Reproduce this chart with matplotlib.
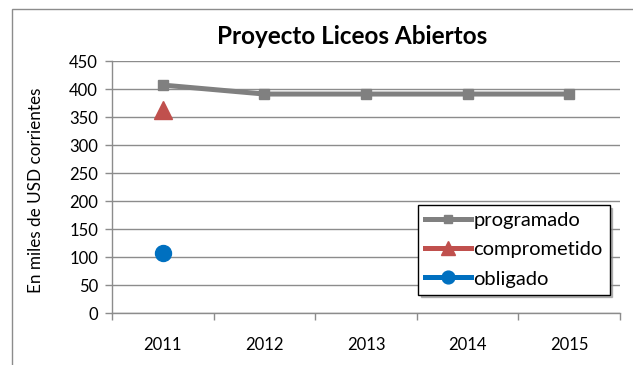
import matplotlib
matplotlib.use("Agg")
import matplotlib.pyplot as plt
from matplotlib.patches import Rectangle
import numpy as np

years = ["2011", "2012", "2013", "2014", "2015"]
programado = [407, 391, 391, 391, 391]
comprometido = [362, None, None, None, None]
obligado = [107, None, None, None, None]
yticks = [0, 50, 100, 150, 200, 250, 300, 350, 400, 450]

plt.rcParams['font.family'] = ['Lato', 'DejaVu Sans']

W, H = 633, 365
fig = plt.figure(figsize=(W / 100, H / 100), dpi=100)
ax = fig.add_axes([112 / W, 1 - 313 / H, (620 - 112) / W, (313 - 61) / H])

# outer chart frame
fig.patches.append(Rectangle((12 / W, -0.05), 1.0, 1 - 9 / H + 0.05,
                             transform=fig.transFigure, fill=False,
                             edgecolor="#8c8c8c", linewidth=1.0))

x = np.arange(len(years))
grid_c = "#8c8c8c"

def to_arr(v):
    return np.array([np.nan if a is None else a for a in v], dtype=float)

ax.plot(x, to_arr(programado), color="#808080", linewidth=3.6, marker="s",
        markersize=7.5, label="programado", zorder=3)
ax.plot(x, to_arr(comprometido), color="#C0504D", linewidth=3.6, marker="^",
        markersize=12.5, label="comprometido", zorder=3)
ax.plot(x, to_arr(obligado), color="#0070C0", linewidth=3.6, marker="o",
        markersize=11.5, label="obligado", zorder=3)

ax.set_xlim(-0.5, len(years) - 0.5)
ax.set_ylim(0, 450)
ax.set_yticks(yticks)
ax.set_yticklabels([str(t) for t in yticks], fontsize=12)
ax.set_xticks(x)
ax.set_xticklabels(years, fontsize=12)
ax.set_xticks(np.arange(len(years) + 1) - 0.5, minor=True)
ax.tick_params(axis="x", which="major", length=0, pad=17)
ax.tick_params(axis="x", which="minor", length=5, color=grid_c, width=1)
ax.tick_params(axis="y", length=5, color=grid_c, width=1, pad=5)

ax.yaxis.grid(True, color=grid_c, linewidth=1)
ax.set_axisbelow(True)
for s in ["top", "right"]:
    ax.spines[s].set_visible(False)
for s in ["left", "bottom"]:
    ax.spines[s].set_color(grid_c)
    ax.spines[s].set_linewidth(1)

ax.set_ylabel("En miles de USD corrientes", fontsize=12.3)
ax.yaxis.set_label_coords((44 - 112) / (620 - 112), 0.486)
fig.text(352 / W, 1 - 37 / H, "Proyecto Liceos Abiertos", ha="center",
         va="center", fontsize=17.5, fontweight="bold")

leg = ax.legend(loc="upper left", bbox_to_anchor=((418 - 112) / (620 - 112),
                (313 - 205) / (313 - 61)), fontsize=14.5, frameon=True,
                fancybox=False, shadow={'color': '0.55', 'alpha': 0.6},
                handlelength=2.3, borderpad=0.35, labelspacing=0.6,
                handletextpad=0.1, borderaxespad=0, markerscale=0.8)
leg.get_frame().set_edgecolor("black")
leg.get_frame().set_linewidth(1)

fig.savefig("out.png", dpi=100)
